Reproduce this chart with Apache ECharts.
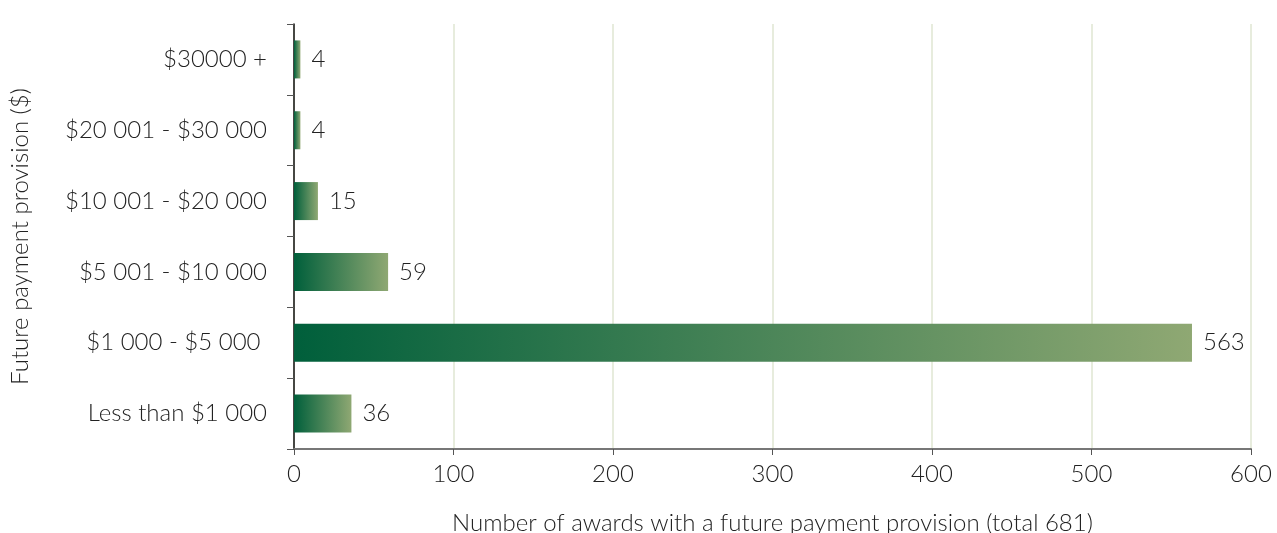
<!DOCTYPE html>
<html lang="en">
<head>
	<meta charset="UTF-8">
	<title>Future payment provision</title>
	<script src="https://cdn.jsdelivr.net/npm/echarts@6/dist/echarts.min.js"></script>
	<style>
		html, body { margin: 0; padding: 0; background: #fff; }
		#main { width: 1277px; height: 533px; }
	</style>
</head>
<body>
	<div id="main"></div>
	<script>
		// bottom to top, as echarts draws category y axis
		var categories = ['Less than $1 000', '$1 000 - $5 000 ', '$5 001 - $10 000', '$10 001 - $20 000', '$20 001 - $30 000', '$30000 +'];
		var awards = [36, 563, 59, 15, 4, 4];
		var xTicks = [0, 100, 200, 300, 400, 500, 600];

		var font = 'Lato';
		var fs = 24;
		var barFill = new echarts.graphic.LinearGradient(0, 0, 1, 0, [
			{offset: 0, color: '#005f3b'},
			{offset: 1, color: '#8fa873'}
		]);

		var option = {
			animation: false,
			textStyle: {fontFamily: font, fontWeight: 300},
			grid: {left: 294, right: 26, top: 24, bottom: 84, outerBoundsMode: 'none', containLabel: false},
			xAxis: {
				type: 'value',
				min: xTicks[0],
				max: xTicks[xTicks.length - 1],
				interval: 100,
				name: 'Number of awards with a future payment provision (total 681)',
				nameLocation: 'middle',
				nameGap: 62,
				nameTextStyle: {fontSize: fs, color: '#222', fontFamily: font, fontWeight: 300},
				axisLine: {show: true, lineStyle: {color: '#777', width: 2}},
				axisTick: {show: true, length: 6, lineStyle: {color: '#555'}},
				axisLabel: {fontSize: fs, color: '#222', margin: 13, fontFamily: font, fontWeight: 300},
				splitLine: {show: true, lineStyle: {color: '#dfe6d2', width: 1.5}}
			},
			yAxis: {
				type: 'category',
				data: categories,
				name: 'Future payment provision ($)',
				nameLocation: 'middle',
				nameGap: 262,
				nameRotate: 90,
				nameTextStyle: {fontSize: fs, color: '#222', fontFamily: font, fontWeight: 300},
				axisLine: {show: true, lineStyle: {color: '#111', width: 1.5}},
				axisTick: {show: true, length: 7, lineStyle: {color: '#555'}},
				axisLabel: {fontSize: fs, color: '#222', margin: 27, fontFamily: font, fontWeight: 300},
				splitLine: {show: false}
			},
			series: [{
				type: 'bar',
				data: awards,
				barWidth: 38,
				itemStyle: {color: barFill},
				label: {
					show: true,
					position: 'right',
					distance: 11,
					fontSize: fs,
					color: '#222',
					fontFamily: font,
					fontWeight: 300
				}
			}]
		};

		var myChart = echarts.init(document.getElementById('main'));
		myChart.setOption(option);
	</script>
</body>
</html>
